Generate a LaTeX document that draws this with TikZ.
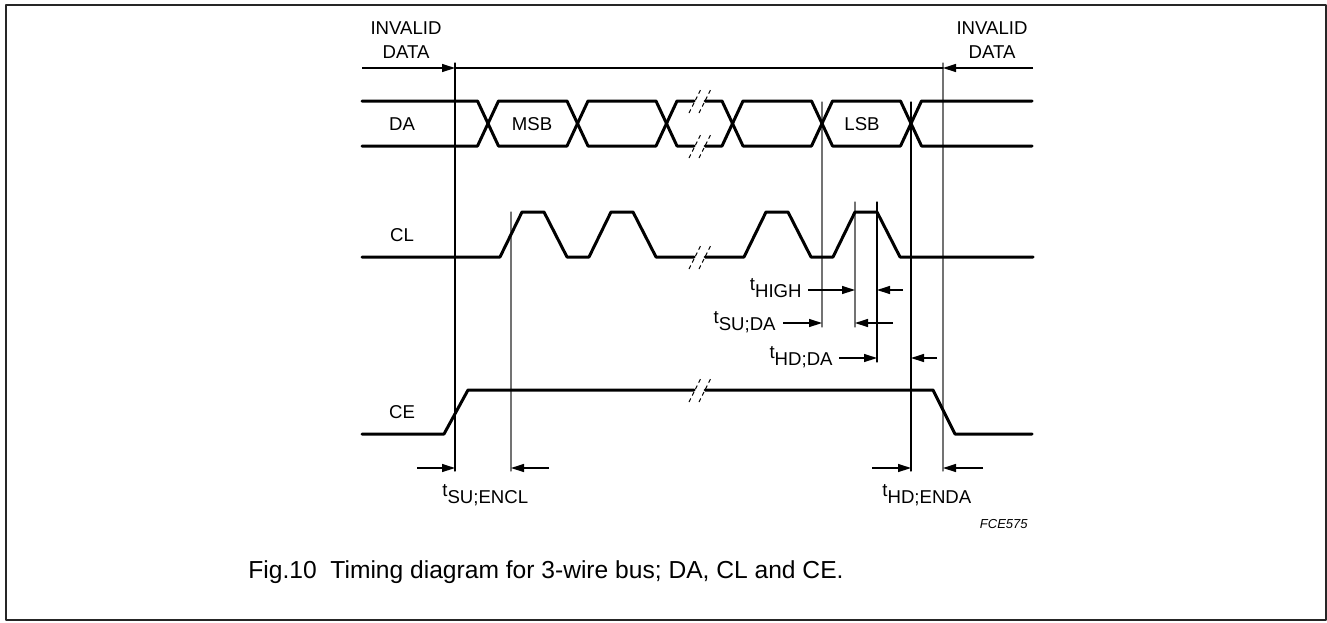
\documentclass[tikz,border=0pt]{standalone}
\usepackage{fontspec}
\setmainfont{Liberation Sans}
\usetikzlibrary{arrows.meta}

\begin{document}
\begin{tikzpicture}[x=0.5pt, y=-0.5pt, line join=round, line cap=round,
    sig/.style={line width=1.5pt},
    tline/.style={line width=0.65pt, black},
    gline/.style={line width=0.65pt, black!55},
    dim/.style={line width=0.65pt, line cap=butt, -{Triangle[length=6.5pt,width=4pt]}},
    brk/.style={line width=0.5pt, line cap=butt, dash pattern=on 2pt off 1.6pt},
    lbl/.style={font=\fontsize{9.3}{12}\selectfont, inner sep=0pt}]
    \useasboundingbox (0,0) rectangle (1327,622);
    \draw[line width=1pt, black!85] (5.5,5) rectangle (1325.5,620);

    % tops of the timing reference lines
    \coordinate (V1) at (455,63);
    \coordinate (V2) at (511,212);
    \coordinate (V3) at (822,102);
    \coordinate (V4) at (855,202);
    \coordinate (V5) at (877,202);
    \coordinate (V6) at (911,102);
    \coordinate (V7) at (943,63);

    \draw[tline] (V1) -- (455,471);
    \draw[gline] (V2) -- (511,471);
    \draw[gline] (V3) -- (822,327);
    \draw[gline] (V4) -- (855,327);
    \draw[tline] (V5) -- (877,362);
    \draw[tline] (V6) -- (911,471);
    \draw[gline] (V7) -- (943,471);

    \draw[tline] (V1 |- 0,68) -- (V7 |- 0,68);
    \draw[dim] (362,68) -- (V1 |- 0,68);
    \draw[dim] (1033,68) -- (V7 |- 0,68);

    \node[lbl, align=center] (invL) at (406,40) {INVALID\\DATA};
    \node[lbl, align=center] (invR) at (992,40) {INVALID\\DATA};

    % DA bus
    \draw[sig] (362,101) -- (477.5,101) -- (498.5,146) -- (567,146) -- (588,101) -- (656,101) -- (677,146) -- (694,146);
    \draw[sig] (362,146) -- (477.5,146) -- (498.5,101) -- (567,101) -- (588,146) -- (656,146) -- (677,101) -- (694,101);
    \draw[sig] (705,146) -- (722,146) -- (743,101) -- (811.5,101) -- (832.5,146) -- (900.5,146) -- (921.5,101) -- (1032,101);
    \draw[sig] (705,101) -- (722,101) -- (743,146) -- (811.5,146) -- (832.5,101) -- (900.5,101) -- (921.5,146) -- (1032,146);
    \node[lbl] (msb) at (532,124) {MSB};
    \node[lbl] (lsb) at (862,124) {LSB};

    % CL clock
    \draw[sig] (362,257) -- (500,257) -- (522,212) -- (544,212) -- (567,257) -- (589,257) -- (611,212) -- (633,212) -- (656,257) -- (694,257);
    \draw[sig] (705,257) -- (744,257) -- (766,212) -- (788,212) -- (811,257) -- (833,257) -- (855,212) -- (877,212) -- (900,257) -- (1033,257);

    % CE enable
    \draw[sig] (362,434) -- (444,434) -- (468,390) -- (694,390);
    \draw[sig] (705,390) -- (933,390) -- (955,434) -- (1032,434);

    \foreach \y in {101,146,257,390} {
        \draw[brk] (689,\y+12) -- (701,\y-12);
        \draw[brk] (699,\y+12) -- (711,\y-12);
    }

    \node[lbl] (da) at (402,124) {DA};
    \node[lbl] (cl) at (402,235) {CL};
    \node[lbl] (ce) at (402,412) {CE};

    \node[lbl, anchor=base east] (thigh) at (802,290) {t\raisebox{-3.5pt}{HIGH}};
    \draw[dim] (808,290) -- (V4 |- 0,290);
    \draw[dim] (903,290) -- (V5 |- 0,290);

    \node[lbl, anchor=base east] (tsuda) at (776,323) {t\raisebox{-3.5pt}{SU;DA}};
    \draw[dim] (783,323) -- (V3 |- 0,323);
    \draw[dim] (893,323) -- (V4 |- 0,323);

    \node[lbl, anchor=base east] (thdda) at (833,358) {t\raisebox{-3.5pt}{HD;DA}};
    \draw[dim] (839,358) -- (V5 |- 0,358);
    \draw[dim] (937,358) -- (V6 |- 0,358);

    \draw[dim] (417,468) -- (V1 |- 0,468);
    \draw[dim] (549,468) -- (V2 |- 0,468);
    \node[lbl, anchor=base west] (tsuencl) at (442,496) {t\raisebox{-3.5pt}{SU;ENCL}};

    \draw[dim] (872,468) -- (V6 |- 0,468);
    \draw[dim] (983,468) -- (V7 |- 0,468);
    \node[lbl, anchor=base west] (thdenda) at (882,496) {t\raisebox{-3.5pt}{HD;ENDA}};

    \node[font=\fontsize{6.5}{8}\selectfont\itshape, inner sep=0pt, anchor=east] (code) at (1028,524) {FCE575};
    \node[font=\fontsize{12.3}{14}\selectfont, inner sep=0pt, anchor=west] (cap) at (248,572) {Fig.10\ \ Timing diagram for 3-wire bus; DA, CL and CE.};
\end{tikzpicture}
\end{document}
